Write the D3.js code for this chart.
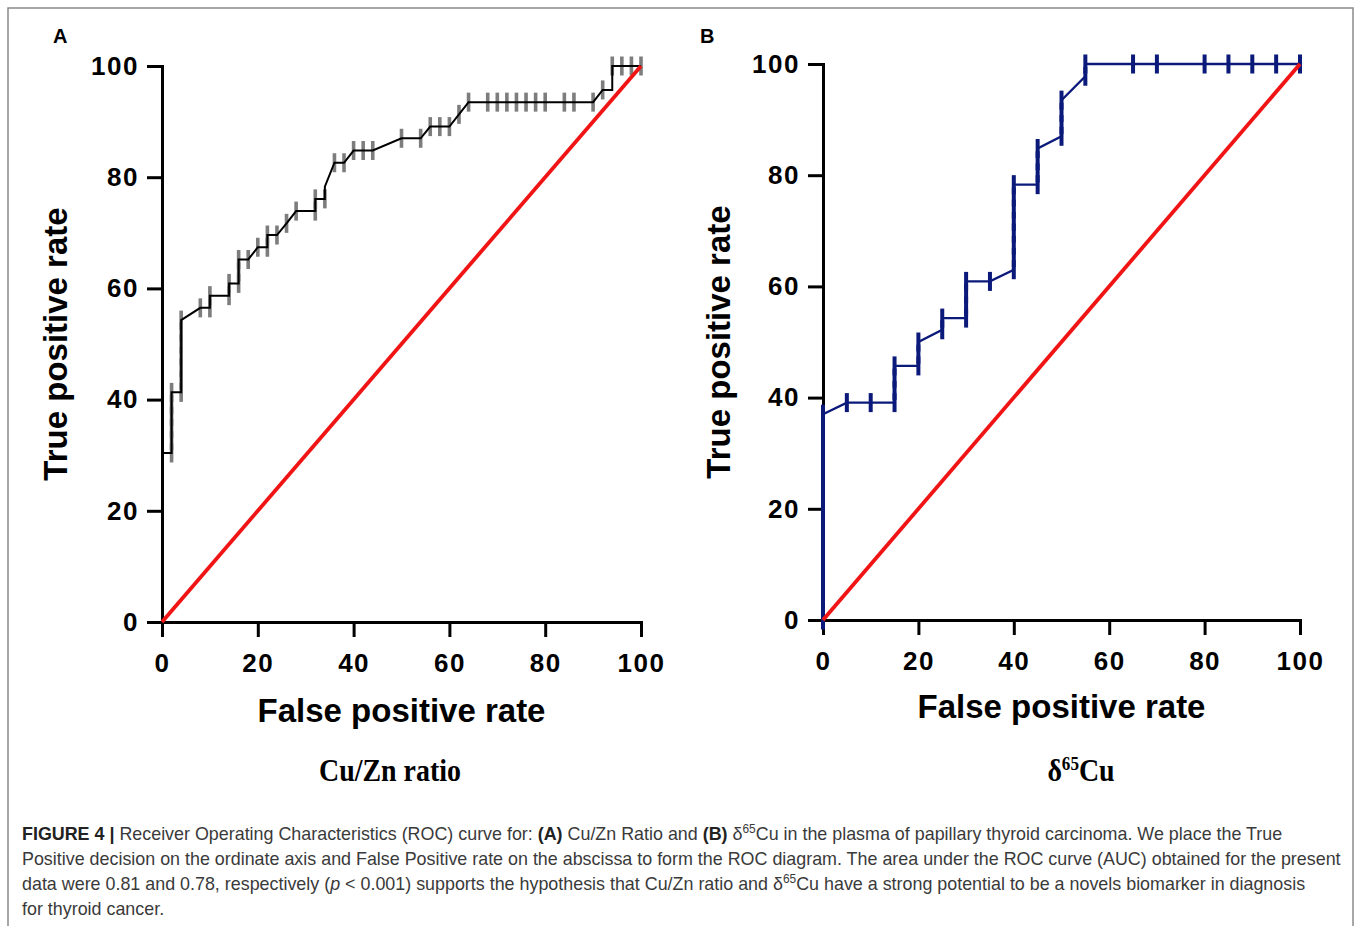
<!DOCTYPE html>
<html>
<head>
<meta charset="utf-8">
<script src="https://cdn.jsdelivr.net/npm/d3@7"></script>
<style>
  body { margin: 0; background: #fff; }
  svg { display: block; }
</style>
</head>
<body>
<script>
// axis ticks shared by both panels
var TICKS = [0, 20, 40, 60, 80, 100];

// panel A: Cu/Zn ratio ROC points (100% - specificity, sensitivity), 1 = marker drawn
var fprA  = [0, 0, 2, 2, 2, 2, 2, 2, 4, 4, 4, 4, 4, 4, 4, 8, 10, 10, 14, 14, 16, 16, 16, 18, 20, 22, 22, 24, 26, 28, 32, 32, 34, 34, 36, 38, 40, 42, 44, 50, 54, 56, 58, 60, 62, 64, 68, 70, 72, 74, 76, 78, 80, 84, 86, 90, 92, 94, 94, 96, 98, 100];
var tprA  = [0, 30.4, 30.4, 32.6, 34.8, 37.0, 39.1, 41.3, 41.3, 43.5, 45.7, 47.8, 50.0, 52.2, 54.3, 56.5, 56.5, 58.7, 58.7, 60.9, 60.9, 63.0, 65.2, 65.2, 67.4, 67.4, 69.6, 69.6, 71.7, 73.9, 73.9, 76.1, 76.1, 78.3, 82.6, 82.6, 84.8, 84.8, 84.8, 87.0, 87.0, 89.1, 89.1, 89.1, 91.3, 93.5, 93.5, 93.5, 93.5, 93.5, 93.5, 93.5, 93.5, 93.5, 93.5, 93.5, 95.7, 95.7, 100, 100, 100, 100];
var markA = [0, 0, 1, 1, 1, 1, 1, 1, 1, 1, 1, 1, 1, 1, 1, 1, 1, 1, 1, 1, 1, 1, 1, 1, 1, 1, 1, 1, 1, 1, 1, 1, 1, 0, 1, 1, 1, 1, 1, 1, 1, 1, 1, 1, 1, 1, 1, 1, 1, 1, 1, 1, 1, 1, 1, 1, 1, 0, 1, 1, 1, 1];

// panel B: delta 65Cu ROC points
var fprB  = [0, 0, 0, 0, 0, 0, 0, 0, 0, 0, 0, 0, 0, 0, 0, 0, 0, 0, 5, 10, 15, 15, 15, 15, 20, 20, 20, 25, 25, 30, 30, 30, 30, 35, 40, 40, 40, 40, 40, 40, 40, 40, 45, 45, 45, 45, 50, 50, 50, 50, 55, 55, 65, 70, 80, 85, 90, 95, 100];
var tprB  = [0, 2.2, 4.3, 6.5, 8.7, 10.9, 13.0, 15.2, 17.4, 19.6, 21.7, 23.9, 26.1, 28.3, 30.4, 32.6, 34.8, 37.0, 39.1, 39.1, 39.1, 41.3, 43.5, 45.7, 45.7, 47.8, 50.0, 52.2, 54.3, 54.3, 56.5, 58.7, 60.9, 60.9, 63.0, 65.2, 67.4, 69.6, 71.7, 73.9, 76.1, 78.3, 78.3, 80.4, 82.6, 84.8, 87.0, 89.1, 91.3, 93.5, 97.8, 100, 100, 100, 100, 100, 100, 100, 100];

var panelLabels = ['A', 'B'];
var xTitle = 'False positive rate';
var yTitle = 'True positive rate';

var svg = d3.select('body').append('svg')
  .attr('width', 1358)
  .attr('height', 926);

// figure frame
svg.append('rect')
  .attr('x', 8).attr('y', 8)
  .attr('width', 1345).attr('height', 940)
  .attr('fill', 'none')
  .attr('stroke', '#8a8a8a')
  .attr('stroke-width', 1.5);

var SANS = 'Liberation Sans, Arial, Helvetica, sans-serif';
var SERIF = 'Liberation Serif, Times New Roman, serif';

function drawPanel(p) {
  var x = d3.scaleLinear().domain([0, 100]).range(p.xr);
  var y = d3.scaleLinear().domain([0, 100]).range(p.yr);
  var g = svg.append('g');

  var xAxis = d3.axisBottom(x).tickValues(TICKS).tickSize(15).tickPadding(17).tickSizeOuter(0);
  var yAxis = d3.axisLeft(y).tickValues(TICKS).tickSize(15).tickPadding(8).tickSizeOuter(0);

  g.append('g').attr('class', 'axis')
    .attr('transform', 'translate(0,' + y(0) + ')')
    .call(xAxis);
  g.append('g').attr('class', 'axis')
    .attr('transform', 'translate(' + x(0) + ',0)')
    .call(yAxis);

  g.selectAll('.axis path')
    .attr('stroke', '#000').attr('stroke-width', 3).attr('stroke-linecap', 'square');
  g.selectAll('.axis line')
    .attr('stroke', '#000').attr('stroke-width', 3);
  g.selectAll('.axis text')
    .attr('font-family', SANS)
    .attr('font-weight', 'bold')
    .attr('font-size', 26)
    .attr('letter-spacing', 1.5)
    .attr('fill', '#000');

  var pts = p.fpr.map(function(f, i) {
    return { f: f, t: p.tpr[i], m: p.mark ? p.mark[i] : 1 };
  });

  // markers under the line
  g.selectAll('rect.mk')
    .data(pts.filter(function(d) { return d.m; }))
    .enter()
    .append('rect')
    .attr('class', 'mk')
    .attr('x', function(d) { return x(d.f) - p.mw / 2; })
    .attr('y', function(d) { return y(d.t) - 9.5; })
    .attr('width', p.mw)
    .attr('height', 19)
    .attr('fill', p.markColor);

  var line = d3.line()
    .x(function(d) { return x(d.f); })
    .y(function(d) { return y(d.t); });

  g.append('path')
    .datum(pts)
    .attr('d', line)
    .attr('fill', 'none')
    .attr('stroke', p.lineColor)
    .attr('stroke-width', p.lw)
    .attr('stroke-linejoin', 'miter');

  // chance line
  g.append('path')
    .datum([{ f: 0, t: 0 }, { f: 100, t: 100 }])
    .attr('d', line)
    .attr('fill', 'none')
    .attr('stroke', '#f01414')
    .attr('stroke-width', 3.8);

  var cx = (p.xr[0] + p.xr[1]) / 2;
  var cy = (p.yr[0] + p.yr[1]) / 2;

  g.append('text')
    .attr('x', cx).attr('y', p.xTitleY)
    .attr('text-anchor', 'middle')
    .attr('font-family', SANS).attr('font-weight', 'bold').attr('font-size', 33)
    .text(xTitle);

  g.append('text')
    .attr('transform', 'translate(' + p.yTitleX + ',' + cy + ') rotate(-90)')
    .attr('text-anchor', 'middle')
    .attr('font-family', SANS).attr('font-weight', 'bold').attr('font-size', 33)
    .text(yTitle);

  g.append('text')
    .attr('x', p.labelX).attr('y', 43)
    .attr('font-family', SANS).attr('font-weight', 'bold').attr('font-size', 20)
    .text(p.label);

  var sub = g.append('text')
    .attr('transform', 'translate(' + p.subX + ',781) scale(0.9,1)')
    .attr('text-anchor', 'middle')
    .attr('font-family', SERIF).attr('font-weight', 'bold').attr('font-size', 31);
  p.sub.forEach(function(s) {
    var ts = sub.append('tspan').text(s[0]);
    if (s[1] === 'sup') ts.attr('font-size', 19).attr('dy', -11);
    else if (s[1] === 'after') ts.attr('dy', 11);
  });
}

drawPanel({
  xr: [162, 641], yr: [622, 66],
  fpr: fprA, tpr: tprA, mark: markA,
  markColor: '#7d7d7d', lineColor: '#000', lw: 2, mw: 3.6,
  xTitleY: 722, yTitleX: 67, labelX: 53, label: panelLabels[0],
  subX: 390, sub: [['Cu/Zn ratio', '']]
});

drawPanel({
  xr: [823, 1300], yr: [620, 64],
  fpr: fprB, tpr: tprB, mark: null,
  markColor: '#0b1a7a', lineColor: '#0b1a7a', lw: 2.3, mw: 4,
  xTitleY: 718, yTitleX: 730, labelX: 700, label: panelLabels[1],
  subX: 1081, sub: [['δ', ''], ['65', 'sup'], ['Cu', 'after']]
});

// caption
var captionLines = [
  [['FIGURE 4 |', 'b'], [' Receiver Operating Characteristics (ROC) curve for: ', ''], ['(A)', 'b'], [' Cu/Zn Ratio and ', ''], ['(B)', 'b'], [' δ', ''], ['65', 'sup'], ['Cu in the plasma of papillary thyroid carcinoma. We place the True', 'after']],
  [['Positive decision on the ordinate axis and False Positive rate on the abscissa to form the ROC diagram. The area under the ROC curve (AUC) obtained for the present', '']],
  [['data were 0.81 and 0.78, respectively (', ''], ['p', 'i'], [' < 0.001) supports the hypothesis that Cu/Zn ratio and δ', ''], ['65', 'sup'], ['Cu have a strong potential to be a novels biomarker in diagnosis', 'after']],
  [['for thyroid cancer.', '']]
];
var captionY = [840, 865, 890, 915];

var cap = svg.append('g');
var capTexts = captionLines.map(function(parts, i) {
  var t = cap.append('text')
    .attr('x', 0).attr('y', captionY[i])
    .attr('font-family', SANS).attr('font-size', 18)
    .attr('fill', '#3a3a3a')
    .style('white-space', 'pre');
  parts.forEach(function(s) {
    var ts = t.append('tspan').text(s[0]);
    if (s[1] === 'b') ts.attr('font-weight', 'bold').attr('fill', '#222');
    if (s[1] === 'i') ts.attr('font-style', 'italic');
    if (s[1] === 'sup') ts.attr('font-size', 12).attr('dy', -7);
    if (s[1] === 'after') ts.attr('dy', 7);
  });
  return t;
});
var natural = capTexts[1].node().getComputedTextLength();
var sx = (1341 - 22) / natural;
cap.attr('transform', 'translate(22,0) scale(' + sx + ',1)');
</script>
</body>
</html>
